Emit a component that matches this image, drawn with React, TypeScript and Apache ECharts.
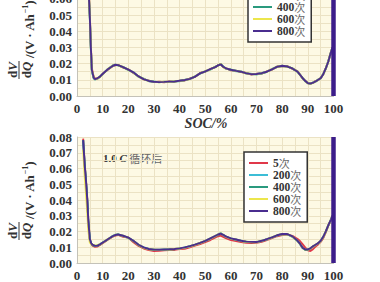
import React, { useEffect, useRef } from 'react';
import * as echarts from 'echarts';

const seriesNames = ['5次', '200次', '400次', '600次', '800次'];
const seriesColors = ['#e0384a', '#3cbdd6', '#2a9a7e', '#ece64c', '#4a2d8f'];

// SOC positions (top panel)
const socTop = [
  4.0, 4.5, 5.0, 5.4, 5.8, 6.5, 7, 8, 9, 10,
  12, 14, 15, 16, 18, 20, 22, 24, 26, 28,
  30, 32, 34, 36, 38, 40, 42, 44, 46, 48,
  50, 52, 54, 55, 56, 57, 58, 60, 62, 64,
  66, 68, 70, 72, 74, 76, 78, 80, 82, 84,
  86, 88, 89, 90, 91, 92, 93, 94, 95, 96,
  97, 98, 99, 99.6,
];

const top5 = [
  0.080, 0.067, 0.050, 0.031, 0.017, 0.0118, 0.0107, 0.0110, 0.0118, 0.0137,
  0.0163, 0.0186, 0.0190, 0.0192, 0.0175, 0.0165, 0.0142, 0.0122, 0.0103, 0.0095,
  0.0086, 0.0088, 0.0085, 0.0090, 0.0087, 0.0095, 0.0096, 0.0108, 0.0118, 0.0142,
  0.0150, 0.0167, 0.0178, 0.0190, 0.0195, 0.0178, 0.0172, 0.0158, 0.0157, 0.0148,
  0.0142, 0.0133, 0.0137, 0.0138, 0.0152, 0.0163, 0.0182, 0.0184, 0.0184, 0.0168,
  0.0152, 0.0108, 0.0094, 0.0078, 0.0078, 0.0080, 0.0092, 0.0098, 0.0112, 0.0133,
  0.0172, 0.0213, 0.0272, 0.0300,
];
const top200 = [
  0.080, 0.065, 0.048, 0.029, 0.015, 0.0112, 0.0103, 0.0106, 0.0122, 0.0133,
  0.0167, 0.0190, 0.0194, 0.0188, 0.0180, 0.0160, 0.0147, 0.0118, 0.0107, 0.0091,
  0.0090, 0.0084, 0.0089, 0.0086, 0.0092, 0.0091, 0.0100, 0.0104, 0.0122, 0.0138,
  0.0154, 0.0163, 0.0182, 0.0186, 0.0200, 0.0182, 0.0168, 0.0164, 0.0153, 0.0152,
  0.0138, 0.0137, 0.0133, 0.0142, 0.0148, 0.0167, 0.0178, 0.0188, 0.0180, 0.0172,
  0.0148, 0.0112, 0.0090, 0.0082, 0.0074, 0.0084, 0.0088, 0.0102, 0.0108, 0.0137,
  0.0168, 0.0217, 0.0268, 0.0300,
];
const top400 = [
  0.080, 0.066, 0.049, 0.030, 0.016, 0.0110, 0.0102, 0.0109, 0.0119, 0.0136,
  0.0164, 0.0187, 0.0191, 0.0191, 0.0177, 0.0163, 0.0144, 0.0121, 0.0104, 0.0094,
  0.0087, 0.0087, 0.0086, 0.0089, 0.0089, 0.0094, 0.0097, 0.0107, 0.0119, 0.0141,
  0.0151, 0.0166, 0.0179, 0.0189, 0.0197, 0.0181, 0.0171, 0.0161, 0.0156, 0.0149,
  0.0141, 0.0134, 0.0136, 0.0139, 0.0151, 0.0164, 0.0181, 0.0185, 0.0183, 0.0169,
  0.0151, 0.0109, 0.0093, 0.0079, 0.0077, 0.0081, 0.0091, 0.0099, 0.0111, 0.0134,
  0.0171, 0.0214, 0.0271, 0.0300,
];
const top600 = [
  0.080, 0.066, 0.049, 0.030, 0.016, 0.0116, 0.0106, 0.0107, 0.0121, 0.0134,
  0.0166, 0.0189, 0.0193, 0.0189, 0.0179, 0.0161, 0.0146, 0.0119, 0.0106, 0.0092,
  0.0089, 0.0085, 0.0088, 0.0087, 0.0091, 0.0092, 0.0099, 0.0105, 0.0121, 0.0139,
  0.0153, 0.0164, 0.0181, 0.0187, 0.0199, 0.0179, 0.0169, 0.0163, 0.0154, 0.0151,
  0.0139, 0.0136, 0.0134, 0.0141, 0.0149, 0.0166, 0.0179, 0.0187, 0.0181, 0.0171,
  0.0149, 0.0111, 0.0091, 0.0081, 0.0075, 0.0083, 0.0089, 0.0101, 0.0109, 0.0136,
  0.0169, 0.0216, 0.0269, 0.0300,
];
const top800 = [
  0.080, 0.066, 0.049, 0.030, 0.016, 0.0114, 0.0104, 0.0109, 0.0121, 0.0136,
  0.0165, 0.0187, 0.0193, 0.0191, 0.0178, 0.0163, 0.0146, 0.0121, 0.0104, 0.0093,
  0.0088, 0.0086, 0.0087, 0.0089, 0.0090, 0.0094, 0.0099, 0.0106, 0.0120, 0.0140,
  0.0152, 0.0166, 0.0180, 0.0189, 0.0196, 0.0181, 0.0171, 0.0162, 0.0155, 0.0150,
  0.0140, 0.0135, 0.0136, 0.0141, 0.0150, 0.0165, 0.0180, 0.0187, 0.0182, 0.0170,
  0.0150, 0.0110, 0.0092, 0.0080, 0.0076, 0.0082, 0.0090, 0.0100, 0.0110, 0.0135,
  0.0170, 0.0215, 0.0270, 0.0300,
];

// SOC positions (bottom panel, after 1.0C cycling)
const socBottom = [
  2.4, 3.0, 3.5, 4.0, 4.4, 5.0, 5.5, 6, 7, 8,
  9, 10, 12, 14, 15, 16, 18, 20, 22, 24,
  26, 28, 30, 32, 34, 36, 38, 40, 42, 44,
  46, 48, 50, 52, 54, 55, 56, 57, 58, 60,
  62, 64, 66, 68, 70, 72, 74, 76, 78, 80,
  82, 84, 86, 87, 88, 89, 90, 91, 92, 93,
  94, 95, 96, 97, 98, 99, 99.6,
];

const bot5 = [
  0.079, 0.063, 0.053, 0.041, 0.028, 0.0155, 0.0122, 0.0110, 0.0103, 0.0105,
  0.0115, 0.0126, 0.0148, 0.0168, 0.0174, 0.0178, 0.0166, 0.0162, 0.0132, 0.0108,
  0.0092, 0.0082, 0.0076, 0.0078, 0.0080, 0.0082, 0.0083, 0.0088, 0.0090, 0.0100,
  0.0110, 0.0120, 0.0132, 0.0146, 0.0162, 0.0170, 0.0174, 0.0166, 0.0158, 0.0145,
  0.0140, 0.0133, 0.0128, 0.0127, 0.0128, 0.0134, 0.0146, 0.0158, 0.0170, 0.0178,
  0.0180, 0.0172, 0.0152, 0.0138, 0.0118, 0.0098, 0.0080, 0.0076, 0.0088, 0.0104,
  0.0118, 0.0134, 0.0158, 0.0195, 0.0238, 0.0272, 0.0300,
];
const bot200 = [
  0.078, 0.062, 0.052, 0.040, 0.027, 0.0150, 0.0126, 0.0116, 0.0110, 0.0112,
  0.0120, 0.0130, 0.0151, 0.0172, 0.0180, 0.0182, 0.0173, 0.0158, 0.0142, 0.0116,
  0.0099, 0.0089, 0.0085, 0.0082, 0.0086, 0.0085, 0.0089, 0.0091, 0.0099, 0.0105,
  0.0117, 0.0126, 0.0141, 0.0154, 0.0173, 0.0182, 0.0190, 0.0179, 0.0167, 0.0156,
  0.0147, 0.0141, 0.0134, 0.0134, 0.0131, 0.0141, 0.0149, 0.0163, 0.0174, 0.0184,
  0.0182, 0.0166, 0.0138, 0.0118, 0.0094, 0.0084, 0.0086, 0.0093, 0.0106, 0.0114,
  0.0126, 0.0139, 0.0166, 0.0201, 0.0241, 0.0276, 0.0300,
];
const bot400 = [
  0.078, 0.062, 0.052, 0.040, 0.027, 0.0148, 0.0124, 0.0114, 0.0107, 0.0111,
  0.0117, 0.0129, 0.0149, 0.0171, 0.0177, 0.0181, 0.0171, 0.0161, 0.0139, 0.0114,
  0.0097, 0.0088, 0.0084, 0.0084, 0.0084, 0.0087, 0.0087, 0.0093, 0.0097, 0.0107,
  0.0115, 0.0128, 0.0139, 0.0156, 0.0171, 0.0179, 0.0187, 0.0177, 0.0169, 0.0154,
  0.0149, 0.0139, 0.0136, 0.0132, 0.0133, 0.0139, 0.0151, 0.0161, 0.0176, 0.0182,
  0.0184, 0.0167, 0.0141, 0.0121, 0.0096, 0.0083, 0.0084, 0.0091, 0.0104, 0.0116,
  0.0124, 0.0141, 0.0164, 0.0199, 0.0239, 0.0275, 0.0300,
];
const bot600 = [
  0.072, 0.055, 0.044, 0.032, 0.021, 0.0130, 0.0120, 0.0117, 0.0111, 0.0113,
  0.0119, 0.0127, 0.0152, 0.0169, 0.0179, 0.0179, 0.0173, 0.0159, 0.0141, 0.0115,
  0.0098, 0.0087, 0.0085, 0.0083, 0.0085, 0.0086, 0.0089, 0.0092, 0.0098, 0.0106,
  0.0116, 0.0127, 0.0140, 0.0155, 0.0172, 0.0181, 0.0188, 0.0178, 0.0168, 0.0155,
  0.0148, 0.0140, 0.0135, 0.0133, 0.0132, 0.0140, 0.0150, 0.0162, 0.0175, 0.0183,
  0.0183, 0.0168, 0.0140, 0.0120, 0.0095, 0.0085, 0.0085, 0.0092, 0.0105, 0.0115,
  0.0125, 0.0140, 0.0165, 0.0200, 0.0240, 0.0275, 0.0300,
];
const bot800 = [
  0.078, 0.062, 0.052, 0.040, 0.027, 0.0152, 0.0126, 0.0116, 0.0109, 0.0110,
  0.0119, 0.0129, 0.0151, 0.0171, 0.0178, 0.0181, 0.0173, 0.0161, 0.0141, 0.0116,
  0.0099, 0.0089, 0.0085, 0.0084, 0.0086, 0.0087, 0.0089, 0.0093, 0.0099, 0.0107,
  0.0117, 0.0128, 0.0141, 0.0156, 0.0173, 0.0181, 0.0187, 0.0179, 0.0169, 0.0156,
  0.0149, 0.0141, 0.0136, 0.0134, 0.0133, 0.0141, 0.0151, 0.0163, 0.0176, 0.0184,
  0.0184, 0.0169, 0.0141, 0.0121, 0.0096, 0.0086, 0.0086, 0.0093, 0.0106, 0.0116,
  0.0126, 0.0141, 0.0166, 0.0201, 0.0241, 0.0276, 0.0300,
];

// vertical spike at SOC = 100 (end of charge)
const spikeSoc = [100, 100];
const spikeVal = [0, 0.08];

const topSeries = [top5, top200, top400, top600, top800];
const botSeries = [bot5, bot200, bot400, bot600, bot800];

const SERIF = '"Liberation Serif", "Times New Roman", serif';
const CJK = '"Noto Sans CJK SC", sans-serif';

// The chart canvas is taller than the window and shifted up, so that the
// top panel is cropped like in the reference.
const SHIFT = 40;

function makeTitle(cx: number, cy: number) {
  const rich = {
    d: { fontFamily: SERIF, fontWeight: 'bold', fontSize: 13, fill: '#333' },
    v: { fontFamily: SERIF, fontWeight: 'bold', fontStyle: 'italic', fontSize: 13, fill: '#333' },
  };
  return {
    type: 'group',
    x: cx,
    y: cy,
    rotation: Math.PI / 2,
    children: [
      {
        type: 'text',
        x: 0,
        y: -7,
        style: { text: '{d|d}{v|V}', align: 'center', verticalAlign: 'middle', rich },
      },
      {
        type: 'line',
        shape: { x1: -9, y1: 0, x2: 9, y2: 0 },
        style: { stroke: '#333', lineWidth: 1 },
      },
      {
        type: 'text',
        x: 0,
        y: 7.5,
        style: { text: '{d|d}{v|Q}', align: 'center', verticalAlign: 'middle', rich },
      },
      {
        type: 'text',
        x: 12,
        y: 10,
        style: {
          text: '{a|/(V · Ah}{s|−1}{a|)}',
          align: 'left',
          verticalAlign: 'middle',
          rich: {
            a: { fontFamily: SERIF, fontWeight: 'bold', fontSize: 13, fill: '#333', lineHeight: 15 },
            s: { fontFamily: SERIF, fontWeight: 'bold', fontSize: 8, fill: '#333', lineHeight: 15, verticalAlign: 'top' },
          },
        },
      },
    ],
  };
}

function legendFor(left: number, top: number) {
  return {
    data: seriesNames,
    orient: 'vertical',
    left,
    top,
    padding: [5, 6, 5, 5],
    itemGap: 0,
    itemWidth: 19,
    itemHeight: 2,
    icon: 'rect',
    backgroundColor: '#ffffff',
    borderColor: '#333',
    borderWidth: 1.5,
    borderRadius: 0,
    selectedMode: false,
    formatter: (name: string) => `{n|${name.replace('次', '')}}{c|次}`,
    textStyle: {
      lineHeight: 11.7,
      rich: {
        n: { fontFamily: SERIF, fontWeight: 'bold', fontSize: 11.5, color: '#333', lineHeight: 11.7 },
        c: { fontFamily: CJK, fontWeight: 'normal', fontSize: 11, color: '#666', lineHeight: 11.7 },
      },
    },
  };
}

const axisLabelStyle = {
  fontFamily: SERIF,
  fontWeight: 'bold',
  fontSize: 13,
  color: '#333',
};

function xAxisFor(gridIndex: number) {
  return {
    type: 'value',
    gridIndex,
    min: 0,
    max: 100,
    interval: 5,
    axisLine: { show: true, lineStyle: { color: '#c4c2b8', width: 1 } },
    axisTick: { show: false },
    splitLine: { show: true, lineStyle: { color: '#ebe2c4', width: 1 } },
    axisLabel: {
      ...axisLabelStyle,
      margin: 6,
      formatter: (v: number) => (Math.round(v) % 10 === 0 ? String(Math.round(v)) : ''),
    },
  };
}

function yAxisFor(gridIndex: number) {
  return {
    type: 'value',
    gridIndex,
    min: 0,
    max: 0.08,
    interval: 0.005,
    axisLine: { show: true, lineStyle: { color: '#c4c2b8', width: 1 } },
    axisTick: { show: false },
    splitLine: { show: true, lineStyle: { color: '#ebe2c4', width: 1 } },
    axisLabel: {
      ...axisLabelStyle,
      margin: 5,
      formatter: (v: number) => {
        const k = Math.round(v * 1000);
        return k % 10 === 0 ? (k / 1000).toFixed(2) : '';
      },
    },
  };
}

export default function App() {
  const ref = useRef<HTMLDivElement>(null);

  useEffect(() => {
    if (!ref.current) return;
    const chart = echarts.init(ref.current, undefined, { renderer: 'svg' });

    const series: any[] = [];
    topSeries.forEach((vals, i) => {
      series.push({
        name: seriesNames[i],
        type: 'line',
        xAxisIndex: 0,
        yAxisIndex: 0,
        showSymbol: false,
        symbol: 'none',
        color: seriesColors[i],
        lineStyle: { width: 1.9, color: seriesColors[i] },
        data: socTop.map((x, j) => [x, vals[j]]),
      });
    });
    series.push({
      name: 'spikeTop',
      type: 'line',
      xAxisIndex: 0,
      yAxisIndex: 0,
      showSymbol: false,
      symbol: 'none',
      clip: false,
      lineStyle: { width: 4.5, color: '#3c1d8a' },
      data: spikeSoc.map((x, j) => [x, spikeVal[j]]),
    });
    botSeries.forEach((vals, i) => {
      series.push({
        name: seriesNames[i],
        type: 'line',
        xAxisIndex: 1,
        yAxisIndex: 1,
        showSymbol: false,
        symbol: 'none',
        color: seriesColors[i],
        lineStyle: { width: 1.9, color: seriesColors[i] },
        data: socBottom.map((x, j) => [x, vals[j]]),
      });
    });
    series.push({
      name: 'spikeBottom',
      type: 'line',
      xAxisIndex: 1,
      yAxisIndex: 1,
      showSymbol: false,
      symbol: 'none',
      clip: false,
      lineStyle: { width: 4.5, color: '#3c1d8a' },
      data: spikeSoc.map((x, j) => [x, spikeVal[j]]),
    });

    chart.setOption({
      animation: false,
      backgroundColor: '#ffffff',
      grid: [
        { left: 77, right: 46.5, top: 1, height: 135, show: true, backgroundColor: '#fdf9e4', borderWidth: 0 },
        { left: 77, right: 46.5, top: 137 + SHIFT, height: 138, show: true, backgroundColor: '#fdf9e4', borderWidth: 0 },
      ],
      xAxis: [xAxisFor(0), xAxisFor(1)],
      yAxis: [yAxisFor(0), yAxisFor(1)],
      legend: [legendFor(248, -28 + SHIFT), legendFor(244, 152 + SHIFT)],
      series,
      graphic: [
        makeTitle(19, 70 + SHIFT),
        makeTitle(19, 231 + SHIFT),
        {
          type: 'text',
          x: 206,
          y: 123 + SHIFT,
          style: {
            text: 'SOC/%',
            align: 'center',
            verticalAlign: 'middle',
            fontFamily: SERIF,
            fontWeight: 'bold',
            fontStyle: 'italic',
            fontSize: 14,
            fill: '#333',
          },
        },
        {
          type: 'text',
          x: 103,
          y: 158 + SHIFT,
          style: {
            text: '{a|1.0 }{b|C}{c| 循环后}',
            align: 'left',
            verticalAlign: 'middle',
            rich: {
              a: { fontFamily: SERIF, fontWeight: 'bold', fontSize: 11, fill: '#333' },
              b: { fontFamily: SERIF, fontWeight: 'bold', fontStyle: 'italic', fontSize: 11, fill: '#333' },
              c: { fontFamily: CJK, fontWeight: 'normal', fontSize: 11, fill: '#666' },
            },
          },
        },
      ],
    });

    return () => {
      chart.dispose();
    };
  }, []);

  return (
    <div
      ref={ref}
      style={{ position: 'absolute', left: 0, top: -SHIFT, width: 380, height: 282 + SHIFT }}
    />
  );
}
